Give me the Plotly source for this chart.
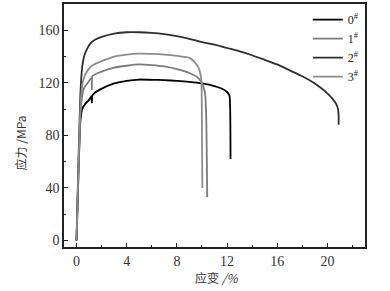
import plotly.graph_objects as go

# Curve 0#
strain0 = [0, 0.15, 0.3, 0.45, 0.7, 1.0, 1.2, 1.22, 1.25, 1.4, 1.9, 3, 4, 5, 6, 7, 8, 9, 10, 11, 11.6, 12.0, 12.2, 12.25, 12.27, 12.28]
stress0 = [0, 50, 90, 100, 104, 107, 110, 105, 110, 112, 115, 119.5, 121.5, 122.5, 122.3, 122, 121.5, 120.7, 119.5, 117.5, 115.5, 113, 110, 100, 80, 62]

# Curve 1#
strain1 = [0, 0.15, 0.3, 0.45, 0.6, 0.9, 1.2, 1.22, 1.25, 1.5, 2, 3, 4, 5, 6, 7, 8, 9, 9.6, 10.0, 10.25, 10.35, 10.4, 10.42]
stress1 = [0, 50, 95, 110, 116, 120, 124, 115, 125, 126.5, 128.5, 131.5, 133, 134, 133.5, 132.5, 130.5, 127.5, 124.5, 120, 112, 90, 50, 33]

# Curve 2#
strain2 = [0, 0.15, 0.3, 0.45, 0.6, 0.8, 1.1, 1.5, 2, 3, 4, 5, 6, 7, 8, 9, 10, 11, 12, 13, 14, 15, 16, 17, 18, 19, 19.5, 20, 20.4, 20.7, 20.85, 20.9, 20.9]
stress2 = [0, 60, 110, 132, 140, 145, 150, 153, 155, 157.5, 158.5, 158.5, 158, 157, 155.5, 153.5, 151, 149, 146.5, 144, 141, 137.5, 134, 129.5, 125, 119.5, 116, 112, 108, 104, 100, 94, 88]

# Curve 3#
strain3 = [0, 0.15, 0.3, 0.45, 0.6, 0.8, 1.1, 1.5, 2, 3, 4, 5, 6, 7, 8, 9, 9.4, 9.75, 9.95, 10.0, 10.03]
stress3 = [0, 55, 100, 118, 124, 128, 132, 134.5, 136.5, 140, 141.5, 142.2, 142, 141.5, 140.5, 139, 136, 131, 122, 80, 40]

names = ["0<sup>#</sup>", "1<sup>#</sup>", "2<sup>#</sup>", "3<sup>#</sup>"]
colors = ["#000000", "#7a7a7a", "#2e2e2e", "#8c8c8c"]

xs = [strain0, strain1, strain2, strain3]
ys = [stress0, stress1, stress2, stress3]

x_ticks = [0, 4, 8, 12, 16, 20]
y_ticks = [0, 40, 80, 120, 160]

fig = go.Figure()
for x, y, n, c in zip(xs, ys, names, colors):
    fig.add_trace(go.Scatter(x=x, y=y, mode="lines", name=n,
                             line=dict(color=c, width=1.8, shape="spline", smoothing=0.4)))

font_serif = "Liberation Serif, Times New Roman, serif"
axis_common = dict(showline=True, linecolor="#222", linewidth=1.5, mirror=True,
                   ticks="inside", ticklen=4, tickwidth=1.2, tickcolor="#222",
                   showgrid=False, zeroline=False,
                   tickfont=dict(family=font_serif, size=14, color="#333"))

fig.update_layout(
    width=390, height=291,
    margin=dict(l=64, r=25, t=2, b=44),
    paper_bgcolor="white", plot_bgcolor="white",
    xaxis=dict(range=[-1, 23], tickvals=x_ticks,
               minor=dict(dtick=2, tick0=0, ticks="inside", ticklen=2, tickcolor="#222"),
               **axis_common),
    yaxis=dict(range=[-5, 180], tickvals=y_ticks,
               minor=dict(dtick=20, tick0=0, ticks="inside", ticklen=2, tickcolor="#222"),
               **axis_common),
    legend=dict(x=0.81, y=0.995, xanchor="left", yanchor="top",
                bgcolor="rgba(0,0,0,0)", tracegroupgap=0,
                font=dict(family=font_serif, size=12, color="#222")),
    showlegend=True,
    annotations=[
        dict(text="应变 <i>/%</i>", xref="paper", yref="paper", x=0.505, y=-0.125,
             xanchor="center", yanchor="middle", showarrow=False,
             font=dict(family="Noto Sans CJK SC", size=12, color="#333")),
        dict(text="应力 /MPa", xref="paper", yref="paper", x=-0.143, y=0.43,
             xanchor="center", yanchor="middle", showarrow=False, textangle=-90,
             font=dict(family="Noto Sans CJK SC", size=12, color="#333")),
    ],
)

fig.write_html("out.html", config={"displayModeBar": False},
               post_script="document.body.style.margin='0px';")
